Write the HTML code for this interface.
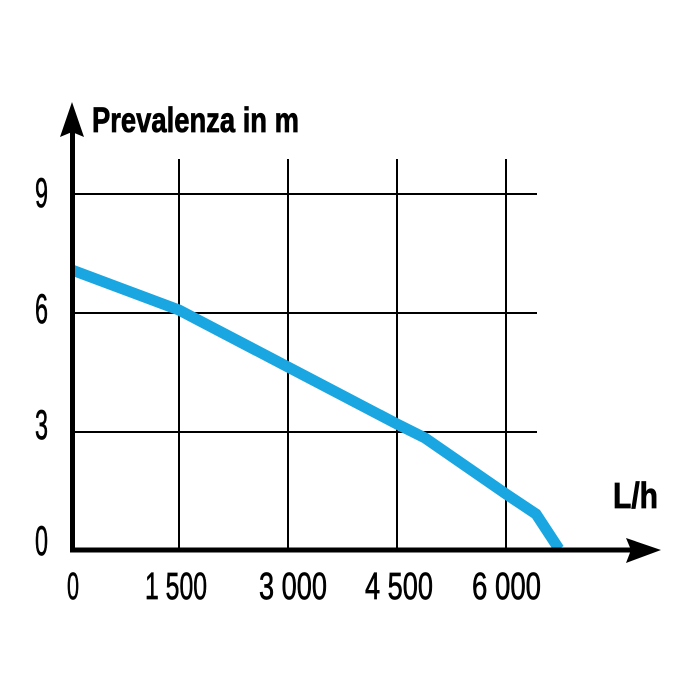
<!DOCTYPE html>
<html>
<head>
<meta charset="utf-8">
<style>
html,body{margin:0;padding:0;background:#fff;}
svg{display:block;}
</style>
</head>
<body>
<svg width="700" height="700" viewBox="0 0 700 700" xmlns="http://www.w3.org/2000/svg">
<rect width="700" height="700" fill="#fff"/>
<!-- grid -->
<g stroke="#000" stroke-width="2">
<line x1="179" y1="159" x2="179" y2="550"/>
<line x1="288" y1="159" x2="288" y2="550"/>
<line x1="397" y1="159" x2="397" y2="550"/>
<line x1="506" y1="159" x2="506" y2="550"/>
<line x1="72" y1="194" x2="537" y2="194"/>
<line x1="72" y1="313" x2="537" y2="313"/>
<line x1="72" y1="432" x2="537" y2="432"/>
</g>
<!-- curve -->
<polyline points="72,270 179,310 288,367 397,424 425,438 506,494 536,514 559,549" fill="none" stroke="#1aa6e0" stroke-width="11" stroke-linejoin="miter"/>
<!-- axes -->
<line x1="72.5" y1="125" x2="72.5" y2="552.5" stroke="#000" stroke-width="5"/>
<line x1="70" y1="550" x2="635" y2="550" stroke="#000" stroke-width="5"/>
<polygon points="72,102 60,137 72,132 84,137" fill="#000"/>
<polygon points="661,550 626,538 631,550 626,563" fill="#000"/>
<!-- titles -->
<text x="92" y="132" font-family="Liberation Sans, sans-serif" font-weight="bold" font-size="35" textLength="207" lengthAdjust="spacingAndGlyphs" fill="#000" stroke="#000" stroke-width="0.8">Prevalenza in m</text>
<text x="613" y="508" font-family="Liberation Sans, sans-serif" font-weight="bold" font-size="36" textLength="45" lengthAdjust="spacingAndGlyphs" fill="#000" stroke="#000" stroke-width="0.8">L/h</text>
<!-- y labels -->
<g font-family="Liberation Sans, sans-serif" font-size="42" fill="#000" stroke="#000" stroke-width="0.7">
<text x="35" y="207" textLength="13" lengthAdjust="spacingAndGlyphs">9</text>
<text x="35" y="323" textLength="13" lengthAdjust="spacingAndGlyphs">6</text>
<text x="35" y="439" textLength="13" lengthAdjust="spacingAndGlyphs">3</text>
<text x="35" y="555" textLength="13" lengthAdjust="spacingAndGlyphs">0</text>
</g>
<!-- x labels -->
<g font-family="Liberation Sans, sans-serif" font-size="38" fill="#000" stroke="#000" stroke-width="0.7">
<text x="67" y="599" textLength="12" lengthAdjust="spacingAndGlyphs">0</text>
<text x="145" y="599" textLength="62" lengthAdjust="spacingAndGlyphs">1 500</text>
<text x="259" y="599" textLength="68" lengthAdjust="spacingAndGlyphs">3 000</text>
<text x="365" y="599" textLength="68" lengthAdjust="spacingAndGlyphs">4 500</text>
<text x="472" y="599" textLength="69" lengthAdjust="spacingAndGlyphs">6 000</text>
</g>
</svg>
</body>
</html>
